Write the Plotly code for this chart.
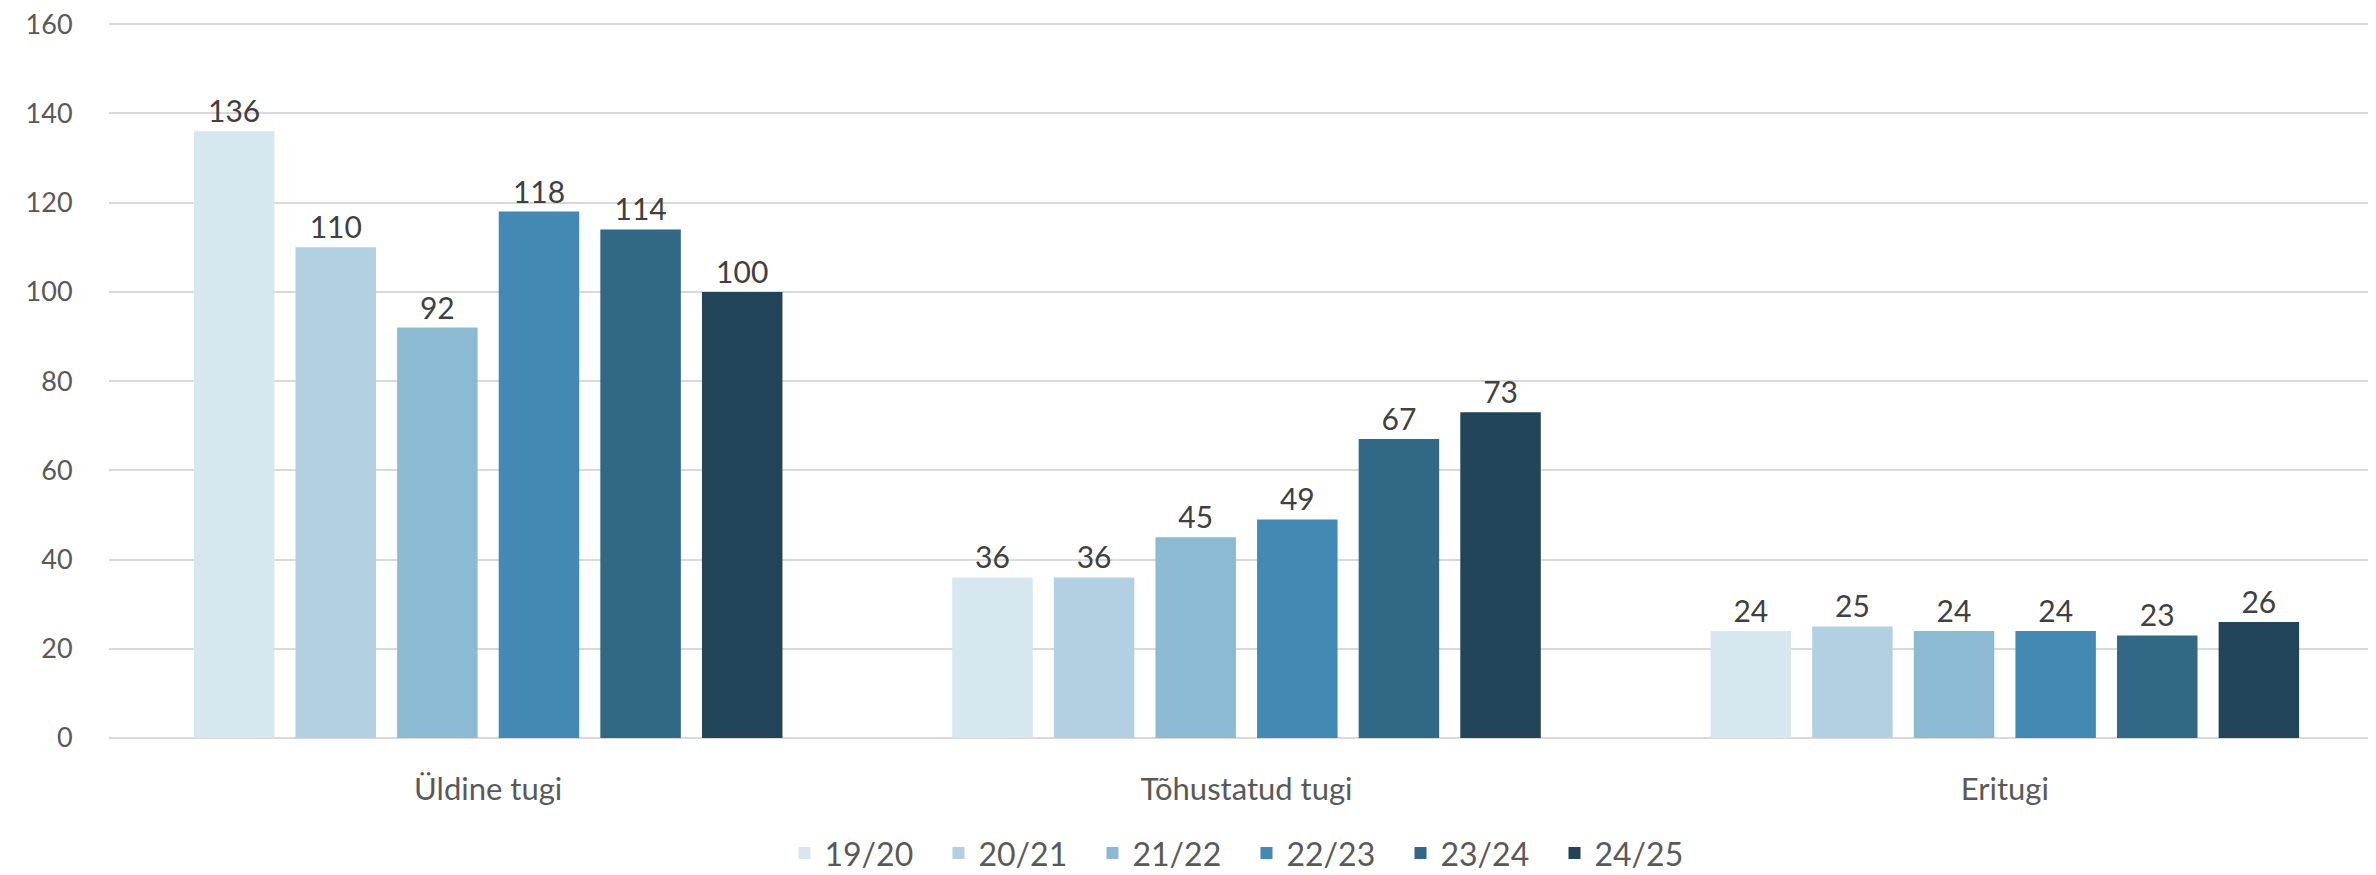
import plotly.graph_objects as go

categories = ["Üldine tugi", "Tõhustatud tugi", "Eritugi"]
years = ["19/20", "20/21", "21/22", "22/23", "23/24", "24/25"]
values = {
    "19/20": [136, 36, 24],
    "20/21": [110, 36, 25],
    "21/22": [92, 45, 24],
    "22/23": [118, 49, 24],
    "23/24": [114, 67, 23],
    "24/25": [100, 73, 26],
}
colors = ["#D7E7F0", "#B2D0E2", "#8DBAD3", "#428AB3", "#316885", "#214459"]

fig = go.Figure()
for yr, col in zip(years, colors):
    fig.add_trace(go.Bar(
        x=categories, y=values[yr], name=yr,
        marker=dict(color=col, line=dict(width=0)),
        text=values[yr], textposition="outside", cliponaxis=False,
        textfont=dict(size=30, color="#404040"),
    ))

fig.update_layout(
    width=2376, height=875,
    barmode="group", bargap=0.196, bargroupgap=0.208,
    plot_bgcolor="white", paper_bgcolor="white",
    font=dict(family="Lato, Open Sans, sans-serif", size=27, color="#595959"),
    margin=dict(l=101, r=0, t=14, b=145, autoexpand=False),
    xaxis=dict(showgrid=False, showline=False, ticks="outside", ticklen=24,
               tickcolor="rgba(0,0,0,0)", tickfont=dict(size=31)),
    # a touch above 160 so the top gridline is not dropped at the edge
    yaxis=dict(range=[0, 160.5], tickvals=[0, 20, 40, 60, 80, 100, 120, 140, 160],
               showgrid=True, gridcolor="#D9D9D9", gridwidth=2,
               zeroline=True, zerolinecolor="#D9D9D9", zerolinewidth=2,
               ticks="outside", ticklen=30, tickcolor="rgba(0,0,0,0)", tickfont=dict(size=27),
               ticklabeloverflow="allow"),
    legend=dict(orientation="h", x=0.5, xanchor="center", yref="container", y=0.034,
                yanchor="middle", font=dict(size=32), entrywidth=109, entrywidthmode="pixels"),
    showlegend=True,
)

fig.write_html("out.html")
